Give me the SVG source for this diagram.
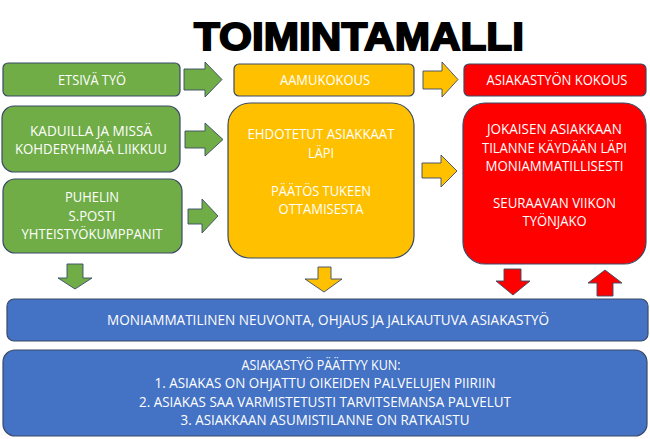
<svg xmlns="http://www.w3.org/2000/svg" width="650" height="439" viewBox="0 0 650 439">
<style>
.box{stroke:#3a4a66;stroke-width:1.2}
.g{fill:#70ad47}.y{fill:#ffc000}.r{fill:#ff0000}.b{fill:#4472c4}
.arr{stroke:#3a4a66;stroke-width:0.9;stroke-linejoin:miter}
text{font-family:"Open Sans","Liberation Sans",sans-serif;font-size:14px;fill:#ffffff;text-anchor:middle}
.title{font-family:"Liberation Sans",Arial,sans-serif;font-weight:bold;font-size:38px;fill:#000;stroke:#000;stroke-width:1.8}
</style>
<rect width="650" height="439" fill="#ffffff"/>
<text class="title" x="359" y="50" textLength="330" lengthAdjust="spacingAndGlyphs">TOIMINTAMALLI</text>

<g id="connectors">
<polygon class="arr g" points="184,69 205,69 205,62 222,79.5 205,97 205,90 184,90"/>
<polygon class="arr y" points="423,71 442,71 442,62 458,79.5 442,97 442,89 423,89"/>
<polygon class="arr g" points="185,131 205,131 205,123 223,139.5 205,156 205,148 185,148"/>
<polygon class="arr g" points="188,209 202,209 202,199 218,216 202,233 202,224 188,224"/>
<polygon class="arr y" points="422,163 441,163 441,155 457,171 441,187 441,178 422,178"/>
<polygon class="arr g" points="67,264 83,264 83,278 92,278 75,289 58,278 67,278"/>
<polygon class="arr y" points="318,267 331,267 331,279 342,279 324,292 305,279 318,279"/>
<polygon class="arr r" points="504,269 521,269 521,281 530,281 513,295 496,281 504,281"/>
<polygon class="arr r" points="605,270 622,283 613,283 613,296 597,296 597,283 588,283"/>
</g>

<g id="etsiva">
<rect class="box g" x="3" y="63" width="177" height="33" rx="5"/>
<text x="92" y="85" textLength="68" lengthAdjust="spacingAndGlyphs">ETSIVÄ TYÖ</text>
</g>
<g id="aamukokous">
<rect class="box y" x="234" y="64" width="180" height="32" rx="5"/>
<text x="325" y="85" textLength="90" lengthAdjust="spacingAndGlyphs">AAMUKOKOUS</text>
</g>
<g id="asiakastyon-kokous">
<rect class="box r" x="464" y="64" width="182" height="32" rx="5"/>
<text x="557" y="85" textLength="141" lengthAdjust="spacingAndGlyphs">ASIAKASTYÖN KOKOUS</text>
</g>
<g id="kaduilla">
<rect class="box g" x="2" y="106" width="178" height="66" rx="12"/>
<text x="91" y="136" textLength="122" lengthAdjust="spacingAndGlyphs">KADUILLA JA MISSÄ</text>
<text x="91" y="154" textLength="152" lengthAdjust="spacingAndGlyphs">KOHDERYHMÄÄ LIIKKUU</text>
</g>
<g id="puhelin">
<rect class="box g" x="3" y="179" width="179" height="74" rx="12"/>
<text x="92" y="202" textLength="54" lengthAdjust="spacingAndGlyphs">PUHELIN</text>
<text x="92" y="221" textLength="47" lengthAdjust="spacingAndGlyphs">S.POSTI</text>
<text x="92" y="239" textLength="141" lengthAdjust="spacingAndGlyphs">YHTEISTYÖKUMPPANIT</text>
</g>
<g id="ehdotetut">
<rect class="box y" x="228" y="103" width="186" height="155" rx="22"/>
<text x="321" y="139" textLength="147" lengthAdjust="spacingAndGlyphs">EHDOTETUT ASIAKKAAT</text>
<text x="321" y="158" textLength="26" lengthAdjust="spacingAndGlyphs">LÄPI</text>
<text x="321" y="196" textLength="100" lengthAdjust="spacingAndGlyphs">PÄÄTÖS TUKEEN</text>
<text x="321" y="214" textLength="85" lengthAdjust="spacingAndGlyphs">OTTAMISESTA</text>
</g>
<g id="jokaisen">
<rect class="box r" x="463" y="103" width="183" height="161" rx="22"/>
<text x="554.5" y="134" textLength="135" lengthAdjust="spacingAndGlyphs">JOKAISEN ASIAKKAAN</text>
<text x="554.5" y="153" textLength="145" lengthAdjust="spacingAndGlyphs">TILANNE KÄYDÄÄN LÄPI</text>
<text x="554.5" y="171" textLength="138" lengthAdjust="spacingAndGlyphs">MONIAMMATILLISESTI</text>
<text x="554.5" y="208" textLength="123" lengthAdjust="spacingAndGlyphs">SEURAAVAN VIIKON</text>
<text x="554.5" y="226" textLength="64" lengthAdjust="spacingAndGlyphs">TYÖNJAKO</text>
</g>
<g id="neuvonta">
<rect class="box b" x="7" y="299" width="641" height="42" rx="7"/>
<text x="328" y="325" textLength="442" lengthAdjust="spacingAndGlyphs">MONIAMMATILINEN NEUVONTA, OHJAUS JA JALKAUTUVA ASIAKASTYÖ</text>
</g>
<g id="paattyy">
<rect class="box b" x="3" y="350" width="644" height="86" rx="12"/>
<text x="321" y="370" textLength="159" lengthAdjust="spacingAndGlyphs">ASIAKASTYÖ PÄÄTTYY KUN:</text>
<text x="325" y="388" textLength="341" lengthAdjust="spacingAndGlyphs">1. ASIAKAS ON OHJATTU OIKEIDEN PALVELUJEN PIIRIIN</text>
<text x="325" y="407" textLength="372" lengthAdjust="spacingAndGlyphs">2. ASIAKAS SAA VARMISTETUSTI TARVITSEMANSA PALVELUT</text>
<text x="325" y="425" textLength="289" lengthAdjust="spacingAndGlyphs">3. ASIAKKAAN ASUMISTILANNE ON RATKAISTU</text>
</g>
</svg>
